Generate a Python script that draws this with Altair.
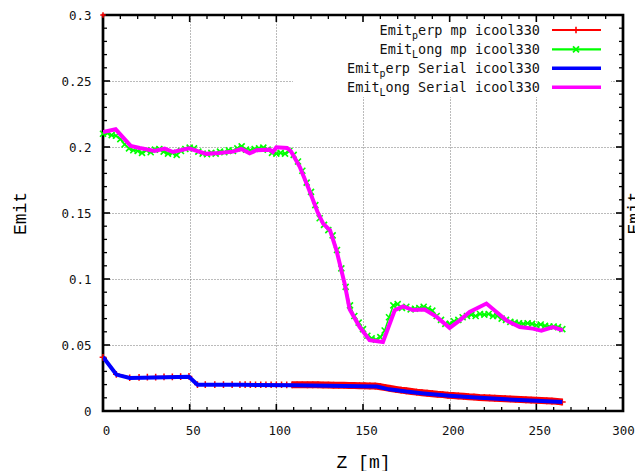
import altair as alt
import pandas as pd

# ---------------- data ----------------
perp_mp_z = [0, 7.7, 15.4, 20.8, 25.6, 30.4, 35.2, 40, 44.8, 49.6, 54.5, 59, 64.5, 69.5, 74.5, 79,
             82, 85, 88, 91, 94, 97, 100, 103, 106, 109, 112, 115, 118, 121, 124, 127, 130, 133,
             136, 139, 142, 145, 148, 151, 154, 157, 160, 163, 166, 169, 172, 175, 178, 181, 184,
             187, 190, 193, 196, 199, 202, 205, 208, 211, 214, 217, 220, 223, 226, 229, 232, 235,
             238, 241, 244, 247, 250, 253, 256, 259, 262, 265]
perp_mp_v = [0.0407, 0.0278, 0.0252, 0.0255, 0.0256, 0.0257, 0.0258, 0.0259, 0.0260, 0.0262,
             0.0200, 0.0200, 0.0200, 0.0200, 0.0200, 0.0200, 0.0200, 0.0200, 0.0199, 0.0199,
             0.0199, 0.0199, 0.0199, 0.0199, 0.0198, 0.0198, 0.0199, 0.0199, 0.0198, 0.0198,
             0.0198, 0.0197, 0.0197, 0.0196, 0.0195, 0.0195, 0.0194, 0.0193, 0.0192, 0.0191,
             0.0190, 0.0189, 0.0184, 0.0177, 0.0170, 0.0164, 0.0158, 0.0153, 0.0148, 0.0143,
             0.0139, 0.0135, 0.0131, 0.0127, 0.0124, 0.0120, 0.0117, 0.0114, 0.0111, 0.0108,
             0.0106, 0.0103, 0.0101, 0.0099, 0.0097, 0.0095, 0.0093, 0.0091, 0.0089, 0.0087,
             0.0085, 0.0083, 0.0081, 0.0079, 0.0077, 0.0075, 0.0073, 0.0068]
perp_mp_start_z = [0]
perp_mp_start_v = [0.3]

long_mp_z = [0, 2.5, 5, 7.5, 10, 12.5, 15, 17.5, 20, 22.5, 25, 27.5, 30, 32.5, 35, 37.5, 40, 42.5,
             45, 47.5, 50, 52.5, 55, 57.5, 60, 62.5, 65, 67.5, 70, 72.5, 75, 77.5, 80, 82.5, 85,
             87.5, 90, 92.5, 95, 97.5, 100, 102.5, 105, 107.5, 110, 112.5, 115, 117.5, 120, 122.5,
             125, 127.5, 130, 132.5, 135, 137.5, 140, 142.5, 145, 147.5, 150, 152.5, 155, 157.5,
             160, 162.5, 165, 167.5, 170, 172.5, 175, 177.5, 180, 182.5, 185, 187.5, 190, 192.5,
             195, 197.5, 200, 202.5, 205, 207.5, 210, 212.5, 215, 217.5, 220, 222.5, 225, 227.5,
             230, 232.5, 235, 237.5, 240, 242.5, 245, 247.5, 250, 252.5, 255, 257.5, 260, 262.5, 265]
long_mp_v = [0.2100, 0.2105, 0.2090, 0.2085, 0.2060, 0.2020, 0.1990, 0.1975, 0.1970, 0.1955,
             0.1975, 0.1960, 0.1980, 0.1985, 0.1965, 0.1950, 0.1955, 0.1940, 0.1970, 0.1985,
             0.1995, 0.1990, 0.1965, 0.1950, 0.1945, 0.1955, 0.1950, 0.1965, 0.1960, 0.1975,
             0.1970, 0.1990, 0.2005, 0.1980, 0.1975, 0.1985, 0.1990, 0.1995, 0.1980, 0.1955,
             0.1950, 0.1955, 0.1950, 0.1970, 0.1940, 0.1890, 0.1820, 0.1730, 0.1660, 0.1560,
             0.1460, 0.1410, 0.1370, 0.1330, 0.1220, 0.1080, 0.0940, 0.0800, 0.0720, 0.0670,
             0.0620, 0.0570, 0.0550, 0.0540, 0.0560, 0.0610, 0.0710, 0.0800, 0.0810, 0.0780,
             0.0790, 0.0770, 0.0775, 0.0780, 0.0790, 0.0775, 0.0760, 0.0720, 0.0690, 0.0660,
             0.0660, 0.0680, 0.0690, 0.0710, 0.0720, 0.0730, 0.0720, 0.0735, 0.0730, 0.0735,
             0.0720, 0.0720, 0.0700, 0.0690, 0.0675, 0.0670, 0.0665, 0.0660, 0.0665, 0.0660,
             0.0650, 0.0655, 0.0645, 0.0640, 0.0640, 0.0635, 0.0620]

perp_serial_z = [0, 7.7, 15.4, 30, 49.6, 54.5, 80, 110, 130, 158, 165, 175, 185, 200, 215, 230, 250, 265]
perp_serial_v = [0.0410, 0.0276, 0.0250, 0.0254, 0.0260, 0.0199, 0.0198, 0.0195, 0.0191, 0.0186,
                 0.0164, 0.0147, 0.0133, 0.0116, 0.0102, 0.0090, 0.0078, 0.0068]

long_serial_z = [0, 7.3, 16, 21.2, 29.8, 35.6, 40.4, 49.6, 59.6, 67, 75, 79.8, 84.6, 88.5, 96.2, 98,
                 100, 106.2, 108.5, 113.5, 118.5, 124, 127, 131, 134.7, 139.4, 142.3, 148.1, 153.8,
                 161.5, 168.3, 173.1, 178.8, 185.6, 192.3, 200, 205.8, 211.5, 221.2, 227, 232.7,
                 240.4, 248, 252.9, 259.6, 265.4]
long_serial_v = [0.2114, 0.2134, 0.2008, 0.1992, 0.1970, 0.1988, 0.1962, 0.1990, 0.1948, 0.1955,
                 0.1965, 0.1985, 0.1952, 0.1975, 0.1980, 0.1962, 0.1998, 0.1992, 0.1965, 0.1850,
                 0.1690, 0.1500, 0.1420, 0.1369, 0.1217, 0.0965, 0.0770, 0.0636, 0.0536, 0.0523,
                 0.0763, 0.0793, 0.0765, 0.0768, 0.0715, 0.0630, 0.0687, 0.0750, 0.0814, 0.0750,
                 0.0687, 0.0636, 0.0624, 0.0608, 0.0636, 0.0611]

x_major = [0, 50, 100, 150, 200, 250, 300]
x_minor = [10, 20, 30, 40, 60, 70, 80, 90, 110, 120, 130, 140, 160, 170, 180, 190,
           210, 220, 230, 240, 260, 270, 280, 290]
y_major = [0, 0.05, 0.1, 0.15, 0.2, 0.25, 0.3]
y_minor = [0.01, 0.02, 0.03, 0.04, 0.06, 0.07, 0.08, 0.09, 0.11, 0.12, 0.13, 0.14,
           0.16, 0.17, 0.18, 0.19, 0.21, 0.22, 0.23, 0.24, 0.26, 0.27, 0.28, 0.29]

legend_main = ["erp mp icool330", "ong mp icool330", "erp Serial icool330", "ong Serial icool330"]
legend_sub = ["p", "L", "p", "L"]
legend_colors = ["#ff0000", "#00ff00", "#0000ff", "#ff00ff"]

# ---------------- layout / style ----------------
W, H = 520, 396
LABEL_FONT = "DejaVu Sans Mono"
TITLE_FONT = "Liberation Mono"
PLUS = "M-1,0L1,0M0,-1L0,1"
CROSS = "M-1,-1L1,1M-1,1L1,-1"

xs = alt.Scale(domain=[0, 300], nice=False, zero=False)
ys = alt.Scale(domain=[0, 0.3], nice=False, zero=False)

xaxis = alt.Axis(values=x_major, format="d", grid=True, gridDash=[1, 2], gridColor="#777777",
                 gridWidth=1, domain=False, ticks=False, tickSize=0, labelFont=LABEL_FONT,
                 labelFontSize=12.5, labelColor="#111111", labelPadding=13,
                 labelOffset=alt.condition("datum.value >= 300", alt.value(0), alt.value(3)),
                 labelFlush=False, title="Z [m]", titleFont=TITLE_FONT, titleFontSize=18,
                 titleFontWeight="normal", titleColor="#000000", titleX=W / 2, titleY=56,
                 titleAlign="center", titleBaseline="alphabetic")
yaxis = alt.Axis(values=y_major, format="~g", grid=True, gridDash=[1, 2], gridColor="#777777",
                 gridWidth=1, domain=False, ticks=False, tickSize=0, labelFont=LABEL_FONT,
                 labelFontSize=12.5, labelColor="#111111", labelPadding=12,
                 title="Emit", titleFont=TITLE_FONT, titleFontSize=18, titleFontWeight="normal",
                 titleColor="#000000", titleAngle=270, titleX=-77.5, titleY=H / 2,
                 titleAlign="center", titleBaseline="alphabetic")
X = alt.X("z:Q", scale=xs, axis=xaxis)
Y = alt.Y("v:Q", scale=ys, axis=yaxis)


def df(z, v):
    return pd.DataFrame({"z": z, "v": v})


one = pd.DataFrame({"k": [0]})
layers = []

# legend background box (hides the grid under the key)
layers.append(alt.Chart(one).mark_rect(fill="white").encode(
    x=alt.value(190), x2=alt.value(508), y=alt.value(2), y2=alt.value(82)))

# inward ticks on all four sides
xmaj = pd.DataFrame({"z": x_major})
xmin = pd.DataFrame({"z": x_minor})
ymaj = pd.DataFrame({"v": y_major})
ymin = pd.DataFrame({"v": y_minor})
for d, ln, sw in [(xmaj, 7, 1.6), (xmin, 4, 1.3)]:
    layers.append(alt.Chart(d).mark_rule(color="black", strokeWidth=sw).encode(
        x=X, y=alt.value(H), y2=alt.value(H - ln)))
    layers.append(alt.Chart(d).mark_rule(color="black", strokeWidth=sw).encode(
        x=X, y=alt.value(0), y2=alt.value(ln)))
for d, ln, sw in [(ymaj, 7, 1.6), (ymin, 4, 1.3)]:
    layers.append(alt.Chart(d).mark_rule(color="black", strokeWidth=sw).encode(
        y=Y, x=alt.value(0), x2=alt.value(ln)))
    layers.append(alt.Chart(d).mark_rule(color="black", strokeWidth=sw).encode(
        y=Y, x=alt.value(W), x2=alt.value(W - ln)))

# plot border
layers.append(alt.Chart(one).mark_rect(fill="transparent", stroke="black", strokeWidth=2.7).encode(
    x=alt.value(0), x2=alt.value(W), y=alt.value(0), y2=alt.value(H)))

# Emit perp mp (red, + markers)
red = df(perp_mp_z, perp_mp_v)
layers.append(alt.Chart(red).mark_line(color="#ff0000", strokeWidth=2.5, clip=True).encode(x=X, y=Y))
layers.append(alt.Chart(red).transform_filter(alt.datum.z >= 109).mark_line(
    color="#ff0000", strokeWidth=7, clip=True).encode(x=X, y=Y))
layers.append(alt.Chart(red).mark_point(shape=PLUS, filled=False, size=45, strokeWidth=1.5,
                                        color="#ff0000", opacity=1).encode(x=X, y=Y))
layers.append(alt.Chart(df(perp_mp_start_z, perp_mp_start_v)).mark_point(
    shape=PLUS, filled=False, size=30, strokeWidth=1.5, color="#ff0000", opacity=1).encode(x=X, y=Y))

# Emit long mp (green, x markers)
green = df(long_mp_z, long_mp_v)
layers.append(alt.Chart(green).mark_line(color="#00ff00", strokeWidth=1.5, clip=True).encode(x=X, y=Y))
layers.append(alt.Chart(green).mark_point(shape=CROSS, filled=False, size=36, strokeWidth=1.6,
                                          color="#00ff00", opacity=1).encode(x=X, y=Y))

# Serial (blue, magenta)
layers.append(alt.Chart(df(perp_serial_z, perp_serial_v)).mark_line(
    color="#0000ff", strokeWidth=4, clip=True).encode(x=X, y=Y))
layers.append(alt.Chart(df(long_serial_z, long_serial_v)).mark_line(
    color="#ff00ff", strokeWidth=4, clip=True).encode(x=X, y=Y))

# ---------------- key ----------------
row_y = [15, 34.3, 53.3, 72.3]
sample_w = [2.2, 2.2, 3.5, 3.5]
MAIN_RIGHT = 437
LEG_FS = 13.5
SUB_FS = 10
CW = LEG_FS * 0.602
SW = SUB_FS * 0.602
for i in range(4):
    ry = row_y[i]
    layers.append(alt.Chart(one).mark_rule(color=legend_colors[i], strokeWidth=sample_w[i]).encode(
        x=alt.value(449), x2=alt.value(498), y=alt.value(ry)))
    if i == 0:
        layers.append(alt.Chart(one).mark_point(shape=PLUS, filled=False, size=45, strokeWidth=1.6,
                                                color=legend_colors[i], opacity=1).encode(
            x=alt.value(473), y=alt.value(ry)))
    if i == 1:
        layers.append(alt.Chart(one).mark_point(shape=CROSS, filled=False, size=36, strokeWidth=1.8,
                                                color=legend_colors[i], opacity=1).encode(
            x=alt.value(473), y=alt.value(ry)))
    sub_right = MAIN_RIGHT - len(legend_main[i]) * CW
    emit_right = sub_right - SW
    layers.append(alt.Chart(one).mark_text(font=LABEL_FONT, fontSize=LEG_FS, align="right",
                                           baseline="alphabetic", color="#111111").encode(
        x=alt.value(MAIN_RIGHT), y=alt.value(ry + 5), text=alt.value(legend_main[i])))
    layers.append(alt.Chart(one).mark_text(font=LABEL_FONT, fontSize=SUB_FS, align="right",
                                           baseline="alphabetic", color="#111111").encode(
        x=alt.value(sub_right), y=alt.value(ry + 9), text=alt.value(legend_sub[i])))
    layers.append(alt.Chart(one).mark_text(font=LABEL_FONT, fontSize=LEG_FS, align="right",
                                           baseline="alphabetic", color="#111111").encode(
        x=alt.value(emit_right), y=alt.value(ry + 5), text=alt.value("Emit")))

# title of the neighbouring panel, cut by the right edge as in the reference
layers.append(alt.Chart(one).mark_text(font=TITLE_FONT, fontSize=18, angle=270, align="center",
                                       baseline="alphabetic", color="#000000").encode(
    x=alt.value(537), y=alt.value(H / 2), text=alt.value("Emit")))

chart = alt.layer(*layers).properties(
    width=W, height=H,
    padding={"left": 95, "top": 7, "right": 12, "bottom": 60},
    autosize=alt.AutoSizeParams(type="none"),
    background="white",
).configure_view(strokeWidth=0)

chart.save("out.html", embed_options={"renderer": "svg", "actions": False})
